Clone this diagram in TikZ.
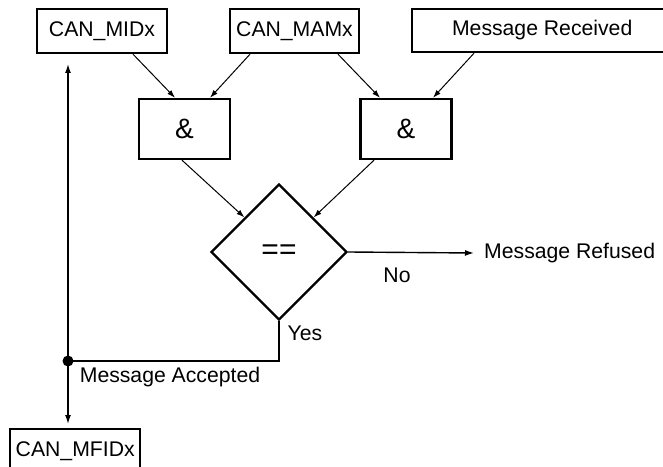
\documentclass[tikz,border=0pt]{standalone}
\usepackage{fontspec}
\setmainfont{Liberation Sans}
\usetikzlibrary{shapes.geometric,arrows.meta}
\begin{document}
\begin{tikzpicture}[x=1bp,y=-1bp,
  every node/.style={font=\fontsize{21.2bp}{25bp}\selectfont},
  box/.style={draw,line width=2.4bp,inner sep=0pt},
  andbox/.style={draw,line width=2.4bp,inner sep=0pt,minimum width=91bp,minimum height=60bp,
     font=\fontsize{28bp}{32bp}\selectfont},
  conn/.style={line width=1bp,-{Latex[length=8bp,width=5.5bp]}},
  wire/.style={line width=1.4bp},
  lbl/.style={inner sep=0pt}
]
\useasboundingbox (0,0) rectangle (663,467);
\node[box,minimum width=130bp,minimum height=44bp] (mid) at (102,31) {CAN\_MIDx};
\node[box,minimum width=129bp,minimum height=44bp] (mam) at (294.5,31) {CAN\_MAMx};
\node[box,minimum width=260bp,minimum height=43bp,anchor=west] (rec) at (411,30.5) {Message Received\hspace{10bp}};
\node[andbox] (and1) at (184.5,129) {\&};
\node[andbox] (and2) at (406,129) {\&};
\node[draw,line width=2.4bp,shape=diamond,minimum width=136bp,minimum height=136bp,inner sep=0pt,
      font=\fontsize{30bp}{34bp}\selectfont] (eq) at (279,252) {\raisebox{-7bp}{==}};
\node[box,minimum width=130bp,minimum height=44bp,anchor=north west] (mfid) at (9,428) {CAN\_MFIDx};
\node[lbl,anchor=west] (refused) at (484,253) {Message Refused};
\node[lbl] (no) at (397,275) {No};
\node[lbl] (yes) at (305,333) {Yes};
\node[lbl] (acc) at (170,377) {Message Accepted};
\coordinate (corner) at (279,361);
\coordinate (dot) at (68,361);
\coordinate (top) at (68,64);
\coordinate (refpt) at (474,253);

\draw[conn] ([xshift=31bp]mid.south) -- ([xshift=-9.5bp]and1.north);
\draw[conn] ([xshift=-44.5bp]mam.south) -- ([xshift=25.5bp]and1.north);
\draw[conn] ([xshift=43.5bp]mam.south) -- ([xshift=-26bp]and2.north);
\draw[conn] ([xshift=63bp]rec.south west) -- ([xshift=27bp]and2.north);
\draw[conn] ([xshift=-2.5bp]and1.south) -- (eq.north west);
\draw[conn] ([xshift=-32bp]and2.south) -- (eq.north east);
\draw[wire,-{Latex[length=9bp,width=6bp]}] (eq.east) -- (refpt);
\draw[wire] (eq.south) -- (corner) -- (dot);
\draw[wire,-{Latex[length=9bp,width=6bp]}] (dot) -- (top);
\draw[wire,-{Latex[length=9bp,width=6bp]},shorten >=4bp] (dot) -- (dot |- mfid.north);
\fill (dot) circle (5.5bp);
\end{tikzpicture}
\end{document}
